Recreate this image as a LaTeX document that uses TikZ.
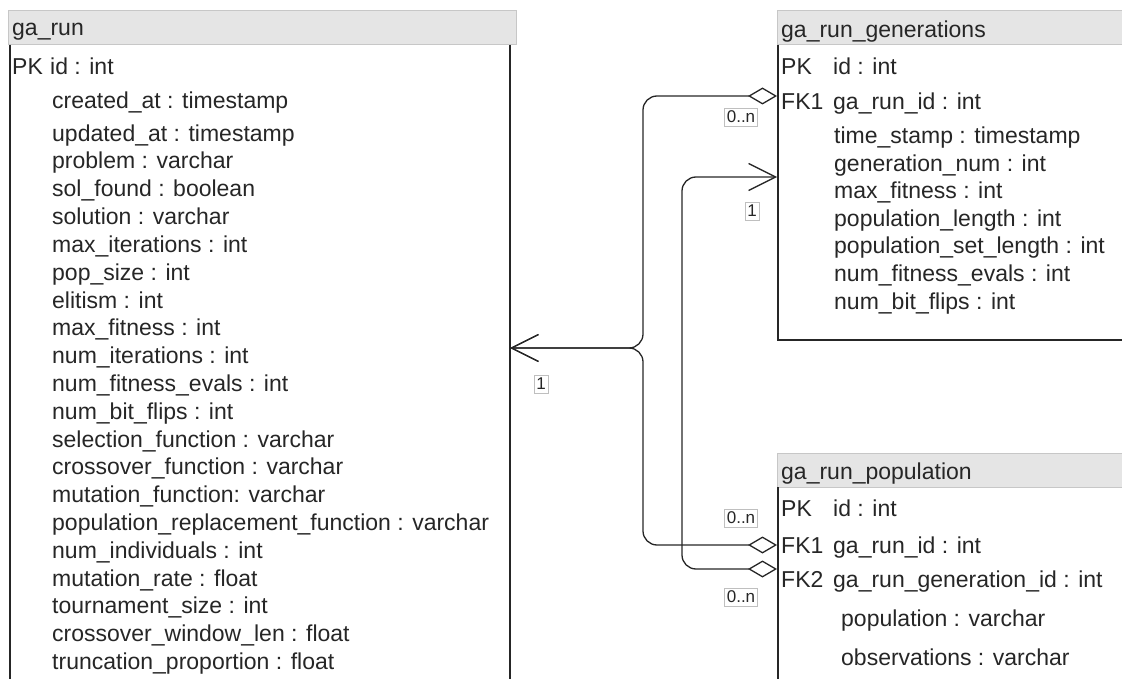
\documentclass[tikz,border=0pt]{standalone}
\usepackage{fontspec}
\setmainfont{Liberation Sans}
\usetikzlibrary{arrows.meta}
\newcommand\tblfont{\fontsize{23}{27}\selectfont}
\newcommand\multfont{\fontsize{17}{20}\selectfont}
\begin{document}
\begin{tikzpicture}[x=1pt,y=-1pt,
  hdr/.style={draw=black!22, fill=black!10, line width=1pt},
  frame/.style={draw=black!85, line width=1.6pt},
  fld/.style={anchor=base west, inner sep=0pt, font=\tblfont, text=black!85},
  mult/.style={draw=black!25, fill=white, inner sep=2.5pt, text height=12pt, text depth=1pt, font=\multfont, text=black!85},
  link/.style={draw=black!85, line width=1.3pt, rounded corners=14pt},
  manyone/.style={{Diamond[open,length=29pt,width=17pt,line width=1.3pt]}-{Straight Barb[length=27pt,width=27pt,line width=1.3pt]}}
]
\useasboundingbox (0,0) rectangle (1122,679);

% ---------- table ga_run ----------
\draw[hdr] (8,11) rectangle (516,45);
\node[fld] (run-title) at (12,36) {ga\_run};
\draw[frame] (10,45) -- (10,690);
\draw[frame] (510,45) -- (510,690);
\node[fld] (run-pk) at (12,75) {PK};
\node[fld] (run-id) at (50,75) {id : int};
\node[fld] (run-c1) at (52,109) {created\_at : timestamp};
\node[fld] (run-c2) at (52,142) {updated\_at : timestamp};
\foreach \t [count=\i from 0] in {
  problem : varchar,
  sol\_found : boolean,
  solution : varchar,
  max\_iterations : int,
  pop\_size : int,
  elitism : int,
  max\_fitness : int,
  num\_iterations : int,
  num\_fitness\_evals : int,
  num\_bit\_flips : int,
  selection\_function : varchar,
  crossover\_function : varchar,
  mutation\_function: varchar,
  population\_replacement\_function : varchar,
  num\_individuals : int,
  mutation\_rate : float,
  tournament\_size : int,
  crossover\_window\_len : float,
  truncation\_proportion : float}
  \node[fld] (run-f\i) at (52,169+27.8*\i) {\t};

% ---------- table ga_run_generations ----------
\draw[hdr] (777,11) rectangle (1130,45);
\node[fld] (gen-title) at (781,38) {ga\_run\_generations};
\draw[frame] (778,45) -- (778,340) -- (1130,340);
\node[fld] (gen-pk) at (781,75) {PK};
\node[fld] (gen-id) at (833,75) {id : int};
\node[fld] (gen-fk) at (781,110) {FK1};
\node[fld] (gen-runid) at (833,110) {ga\_run\_id : int};
\foreach \t [count=\i from 0] in {
  time\_stamp : timestamp,
  generation\_num : int,
  max\_fitness : int,
  population\_length : int,
  population\_set\_length : int,
  num\_fitness\_evals : int,
  num\_bit\_flips : int}
  \node[fld] (gen-f\i) at (834,144+27.5*\i) {\t};

% ---------- table ga_run_population ----------
\draw[hdr] (777,453) rectangle (1130,487);
\node[fld] (pop-title) at (781,479) {ga\_run\_population};
\draw[frame] (778,487) -- (778,690);
\node[fld] (pop-pk) at (781,516) {PK};
\node[fld] (pop-id) at (833,516) {id : int};
\node[fld] (pop-fk1) at (781,553) {FK1};
\node[fld] (pop-runid) at (833,553) {ga\_run\_id : int};
\node[fld] (pop-fk2) at (781,587) {FK2};
\node[fld] (pop-genid) at (833,587) {ga\_run\_generation\_id : int};
\node[fld] (pop-f0) at (841,626) {population : varchar};
\node[fld] (pop-f1) at (841,665) {observations : varchar};

% ---------- connection ports ----------
\coordinate (run-in) at (510,348);
\coordinate (gen-out) at (777,96);
\coordinate (gen-in) at (777,177);
\coordinate (pop-out1) at (777,545);
\coordinate (pop-out2) at (777,569);

% ---------- relationships ----------
\draw[link, manyone] (gen-out) -- ++(-134,0) |- (run-in);
\draw[link, manyone] (pop-out1) -- ++(-134,0) |- (run-in);
\draw[link, manyone] (pop-out2) -- ++(-95,0) |- (gen-in);

% ---------- multiplicities ----------
\node[mult] (m-gen-out) at (741,117) {0..n};
\node[mult] (m-run-in) at (541,384) {1};
\node[mult] (m-gen-in) at (752,211) {1};
\node[mult] (m-pop-out1) at (741,518) {0..n};
\node[mult] (m-pop-out2) at (741,597) {0..n};
\end{tikzpicture}
\end{document}
